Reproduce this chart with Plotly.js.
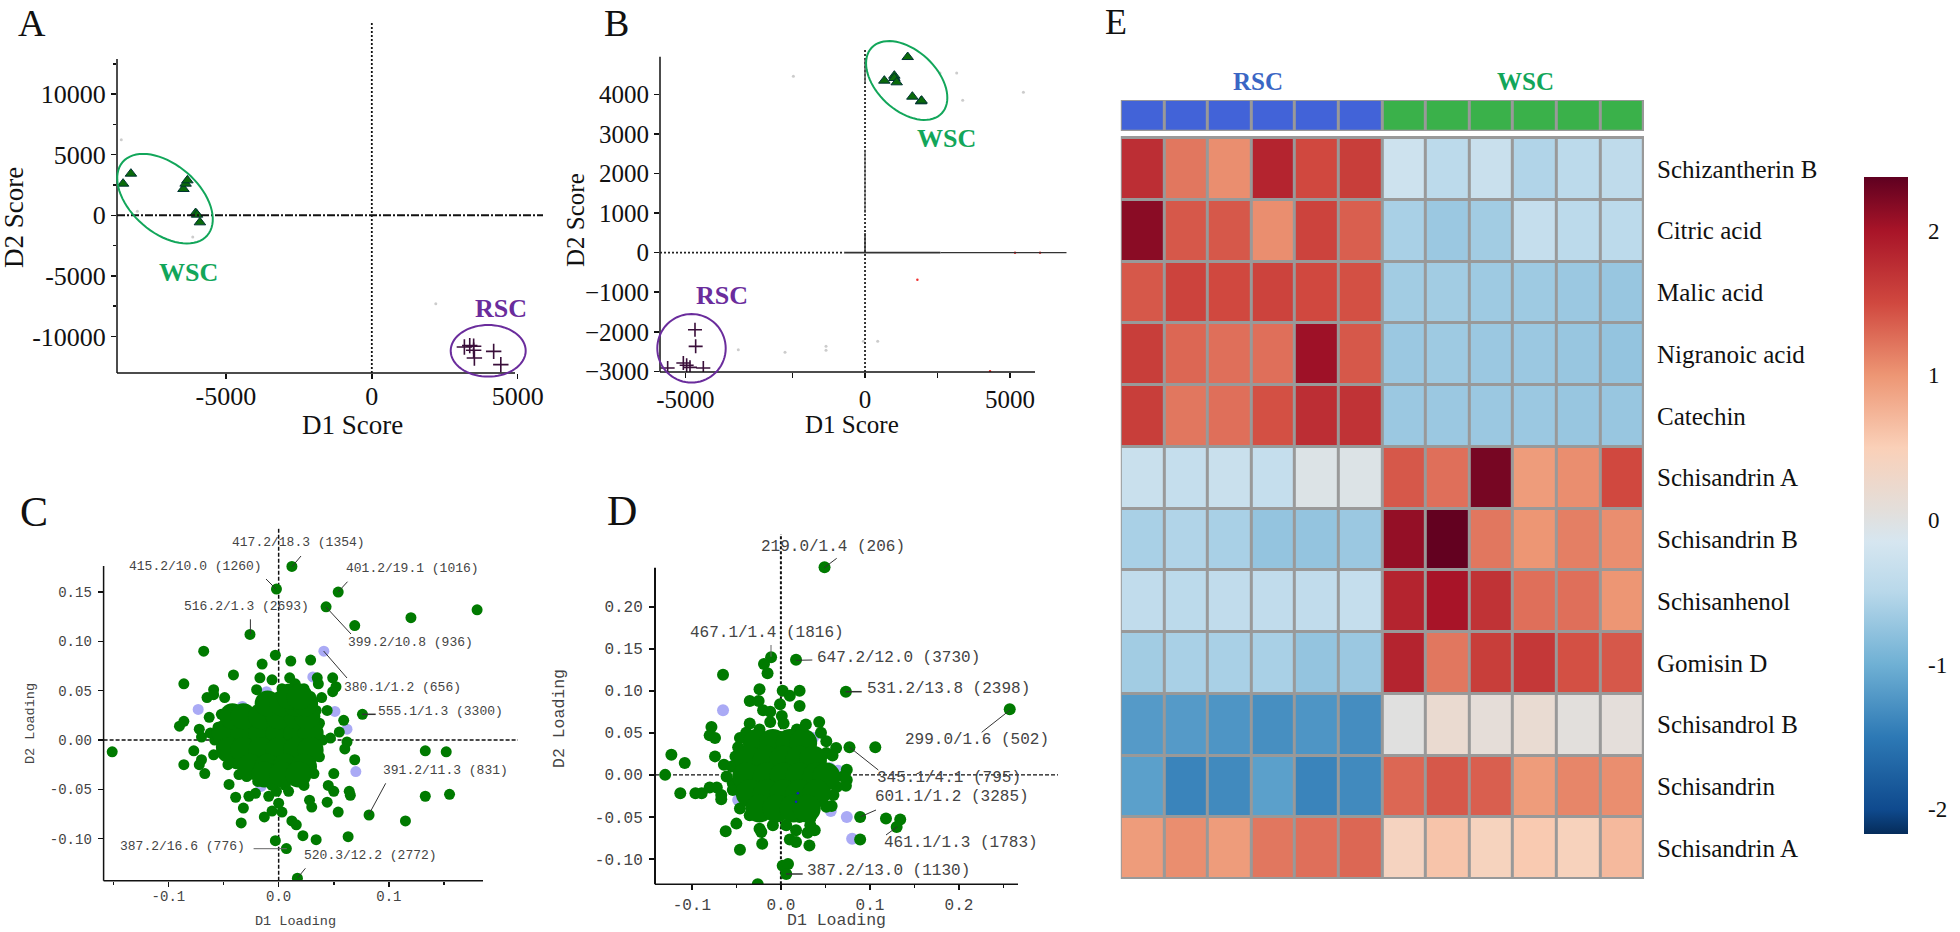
<!DOCTYPE html>
<html><head><meta charset="utf-8">
<script src="https://cdn.plot.ly/plotly-3.0.1.min.js"></script>
<style>html,body{margin:0;padding:0;background:#fff}#p{width:1960px;height:932px}</style>
</head><body><div id="p"></div>
<script>
const W=1960,H=932;
// Panel A scores
const aWscX=[-8526,-8257,-6456,-6382,-6321,-6039,-5990,-5892];
const aWscY=[2612,3437,2172,2612,2887,192,55,-577];
const aRscX=[3173,3357,3491,3491,3516,4177,4422];
const aRscY=[-10862,-10752,-10807,-11137,-11770,-11220,-12320];
const aSpeckX=[2193,-8036,-6137,-8587];
const aSpeckY=[-7288,330,-1787,6242];
// Panel B scores
const bWscX=[1471,666,1011,1011,1092,1632,1930,1950];
const bWscY=[4948,4350,4476,4417,4308,3945,3827,3844];
const bRscX=[-5860,-5837,-6262,-6147,-6032,-6802,-5573];
const bRscY=[-1950,-2369,-2790,-2849,-2900,-2917,-2917];
const bSpeckX=[437,-57,-1344,-1344,3367,5458,3160,2585,-2758,-4367,-2470];
const bSpeckY=[-2242,-2242,-2369,-2470,3852,4055,4544,4544,-2520,-2453,4460];
const bRedX=[1804,5170,6032,4309];
const bRedY=[-683,0,0,-3000];
// Panel C loadings
const cGreenX=[0.012,-0.002,0.054,0.043,0.069,0.120,0.180,-0.026,-0.068,-0.003,0.011,0.029,-0.015,-0.041,-0.017,-0.006,0.010,0.035,0.036,0.049,0.052,0.049,-0.086,-0.059,-0.059,-0.065,-0.049,-0.020,0.039,0.076,0.044,0.059,0.055,0.047,-0.086,-0.090,-0.072,-0.070,-0.052,-0.063,0.062,0.060,0.069,-0.151,0.133,0.152,-0.077,-0.086,-0.072,-0.070,-0.067,-0.059,-0.046,0.050,-0.045,-0.036,0.133,0.155,0.050,0.045,0.064,0.065,-0.039,-0.027,-0.021,-0.009,-0.002,0.009,0.028,0.030,0.044,0.054,0.082,0.115,-0.032,-0.034,-0.013,-0.006,0.003,0,0.012,0.016,0.022,0.034,0.063,-0.003,0.007,0.017,-0.058,-0.062,-0.055,-0.052,-0.045,-0.039,-0.029,-0.019,-0.006,0.006,0.023,0.032,0.037,0.040,0.037,0.034,0.029,0.023,0.015,0.003];
const cGreenY=[0.176,0.153,0.150,0.135,0.116,0.124,0.132,0.107,0.090,0.086,0.080,0.081,0.077,0.066,0.063,0.061,0.063,0.063,0.057,0.063,0.054,0.049,0.057,0.051,0.046,0.043,0.043,0.051,0.043,0.026,0.030,0.020,0.008,0.002,0.019,0.014,0.011,0.003,0.026,0.023,-0.002,-0.009,-0.020,-0.012,-0.011,-0.012,-0.011,-0.025,-0.025,-0.020,-0.034,-0.015,-0.025,-0.034,-0.045,-0.035,-0.057,-0.055,-0.052,-0.046,-0.052,-0.056,-0.058,-0.057,-0.054,-0.057,-0.052,-0.052,-0.061,-0.068,-0.063,-0.073,-0.076,-0.082,-0.069,-0.084,-0.078,-0.072,-0.073,-0.064,-0.082,-0.086,-0.097,-0.101,-0.098,-0.102,-0.110,-0.140,0,0.007,0.013,-0.007,-0.017,-0.024,-0.037,-0.042,-0.046,-0.046,-0.046,-0.034,-0.017,0,0.017,0.030,0.044,0.052,0.057,0.052];
const cCoreX=[-0.049,-0.032,-0.016,0,0.016,0.029,-0.042,-0.032,-0.016,0,0.016,0.026,-0.010,0.003,0.016,0.024,0.010,0.019,-0.045,-0.032,-0.016,0,0.016,0.029,-0.026,-0.010,0.006,0.023,-0.013,0.003,0.018];
const cCoreY=[0.007,0.007,0.007,0.007,0.007,0.007,0.024,0.024,0.024,0.024,0.024,0.024,0.037,0.037,0.037,0.037,0.044,0.044,-0.010,-0.010,-0.010,-0.010,-0.010,-0.010,-0.027,-0.027,-0.027,-0.027,-0.035,-0.035,-0.035];
const cLilacX=[0.041,0.031,-0.073,-0.033,-0.011,0.051,0.062,0.070,-0.016];
const cLilacY=[0.090,0.064,0.031,0.034,0.049,0.029,0.011,-0.032,-0.047];
// Panel D loadings
const dGreenX=[0.049,0.257,0.017,-0.011,-0.019,-0.015,-0.065,-0.024,0.002,0.010,0.021,0.073,-0.035,-0.025,-0.001,0.021,-0.020,-0.012,0.001,-0.012,-0.035,0.003,0.028,0.043,-0.078,0.045,-0.080,-0.074,-0.046,0.051,0.062,0.077,0.106,-0.123,-0.108,-0.074,0.058,-0.064,0.074,-0.130,0.074,0.073,-0.113,-0.096,-0.089,-0.080,-0.072,-0.067,-0.067,0.059,0.057,0.089,0.118,0.134,0.130,0.089,-0.050,-0.062,-0.024,-0.022,0.017,0.033,0.033,0.038,0.030,0.010,0.017,-0.021,0.032,-0.046,0.002,0.008,0.006,-0.026,-0.051,-0.055,-0.054,-0.046,-0.035,-0.009,0.006,0.021,0.051,0.063,0.070,0.051,-0.039,-0.024,0.018,-0.048,-0.061,-0.054];
const dGreenY=[0.247,0.078,0.137,0.140,0.132,0.121,0.119,0.102,0.100,0.094,0.100,0.099,0.088,0.088,0.084,0.082,0.077,0.075,0.070,0.063,0.061,0.061,0.060,0.063,0.057,0.050,0.047,0.044,0.044,0.040,0.032,0.033,0.033,0.024,0.014,0.022,0.023,0.012,0.006,0,-0.006,-0.013,-0.022,-0.022,-0.022,-0.015,-0.015,-0.024,-0.029,-0.024,-0.037,-0.050,-0.052,-0.053,-0.062,-0.077,-0.058,-0.067,-0.064,-0.068,-0.066,-0.052,-0.060,-0.066,-0.069,-0.077,-0.080,-0.082,-0.084,-0.089,-0.108,-0.106,-0.118,-0.130,0.022,0.010,-0.010,-0.040,-0.048,-0.060,-0.060,-0.050,-0.038,-0.014,-0.002,0.026,0.050,0.054,0.054,0.033,-0.002,-0.018];
const dCoreX=[-0.027,-0.009,0.010,0.025,-0.037,-0.016,0.003,0.021,0.036,-0.039,-0.016,0.003,0.021,0.040,0.051,-0.035,-0.016,0.003,0.021,0.040,-0.024,-0.005,0.014,0.029];
const dCoreY=[0.038,0.038,0.038,0.038,0.018,0.018,0.018,0.018,0.018,-0.002,-0.002,-0.002,-0.002,-0.002,-0.002,-0.022,-0.022,-0.022,-0.022,-0.022,-0.040,-0.040,-0.040,-0.040];
const dLilacX=[-0.065,0.036,0.055,0.064,0.056,0.074,0.080,-0.052,-0.048];
const dLilacY=[0.077,0.044,0.008,0.005,-0.043,-0.050,-0.076,0.012,-0.030];
const dBlueX=[0.019,0.017];
const dBlueY=[-0.022,-0.032];
// Panel E heatmap
const compounds=["Schizantherin B","Citric acid","Malic acid","Nigranoic acid","Catechin","Schisandrin A","Schisandrin B","Schisanhenol","Gomisin D","Schisandrol B","Schisandrin","Schisandrin A"];
const heat=[
[1.75,1.2,1.05,1.85,1.5,1.6,-0.25,-0.45,-0.3,-0.55,-0.45,-0.42],
[2.15,1.4,1.4,1.05,1.55,1.35,-0.6,-0.7,-0.65,-0.35,-0.45,-0.45],
[1.4,1.55,1.5,1.55,1.5,1.45,-0.65,-0.65,-0.68,-0.68,-0.7,-0.72],
[1.6,1.3,1.25,1.25,2.05,1.4,-0.7,-0.68,-0.7,-0.7,-0.72,-0.75],
[1.6,1.2,1.25,1.45,1.75,1.7,-0.7,-0.7,-0.7,-0.7,-0.72,-0.72],
[-0.3,-0.35,-0.3,-0.35,-0.05,-0.05,1.4,1.25,2.25,0.95,1.05,1.5],
[-0.6,-0.55,-0.6,-0.75,-0.75,-0.7,2.1,2.35,1.2,1.0,1.15,1.05],
[-0.4,-0.45,-0.4,-0.4,-0.4,-0.35,1.85,2.0,1.7,1.25,1.25,1.0],
[-0.65,-0.6,-0.6,-0.6,-0.75,-0.7,1.85,1.2,1.6,1.65,1.45,1.4],
[-1.2,-1.2,-1.25,-1.3,-1.25,-1.32,0.02,0.2,0.1,0.18,0.05,0.08],
[-1.15,-1.4,-1.35,-1.15,-1.4,-1.35,1.3,1.4,1.35,0.95,1.1,1.05],
[0.95,1.05,0.95,1.2,1.25,1.3,0.4,0.6,0.42,0.55,0.45,0.7]];
const groups=[[0,0,0,0,0,0,1,1,1,1,1,1]];
const zMin=-2.17,zMax=2.37;
const colorStops=[[-2.17,'#052c5a'],[-2,'#0f4a8e'],[-1.5,'#2d79b5'],[-1,'#6fb0d4'],[-0.5,'#b8d8ea'],[-0.15,'#d6e6f0'],[0.05,'#e2dfdc'],[0.5,'#fad0b8'],[1,'#ed9674'],[1.5,'#d0483f'],[2,'#a81428'],[2.37,'#5f0020']];
const scale=colorStops.map(s=>[(s[0]-zMin)/(zMax-zMin),s[1]]);

const SERIF='"Liberation Serif",serif', MONO='"Liberation Mono",monospace';
const GREEN='#007a00',LILAC='#aaaaf5',WSC='#12a65a',RSC='#6a2c9c',DK='#444';
const xd=(l,r)=>[l/W,r/W], yd=(t,b)=>[1-b/H,1-t/H];
const txt=(text,x,y,size,color,family,extra)=>Object.assign({text,x:x/W,y:1-y/H,xref:'paper',yref:'paper',xanchor:'center',yanchor:'middle',showarrow:false,font:{size,color,family}},extra||{});
const seg=(x0,y0,x1,y1,width,color,dash)=>({type:'line',xref:'paper',yref:'paper',x0:x0/W,x1:x1/W,y0:1-y0/H,y1:1-y1/H,line:{width,color,dash:dash||'solid'}});
const dseg=(ax,x0,y0,x1,y1,width,color,dash,layer)=>({type:'line',layer:layer||'above',xref:'x'+ax,yref:'y'+ax,x0,x1,y0,y1,line:{width,color,dash:dash||'solid'}});
function ellipse(cx,cy,a,b,deg,color){
  const t=deg*Math.PI/180;let d='';
  for(let i=0;i<=72;i++){const u=i/72*2*Math.PI,ex=a*Math.cos(u),ey=b*Math.sin(u);
    const px=cx+ex*Math.cos(t)-ey*Math.sin(t),py=cy+ex*Math.sin(t)+ey*Math.cos(t);
    d+=(i?'L':'M')+(px/W).toFixed(5)+','+(1-py/H).toFixed(5);}
  return {type:'path',xref:'paper',yref:'paper',path:d+'Z',line:{width:2,color}};
}
const pts=(ax,x,y,symbol,size,color,lw,lc)=>({type:'scatter',mode:'markers',x,y,xaxis:'x'+ax,yaxis:'y'+ax,hoverinfo:'skip',
  marker:{symbol,size,color,line:{width:lw||0,color:lc||color}}});
const axisBase=(size,color,family)=>({showgrid:false,zeroline:false,showline:false,ticks:'outside',ticklen:5,tickwidth:1.5,tickcolor:'#111',tickfont:{size,color,family}});

const data=[
 pts('',aSpeckX,aSpeckY,'circle',3,'#ccc'),
 pts('',aWscX,aWscY,'triangle-up',10,'#0a6a0a',1,'#033'),
 pts('',aRscX,aRscY,'cross-thin',11,'#3a0f3a',1.6,'#3a0f3a'),
 pts('2',bSpeckX,bSpeckY,'circle',3,'#ccc'),
 pts('2',bRedX,bRedY,'circle',2.5,'#f03030'),
 pts('2',bWscX,bWscY,'triangle-up',10,'#0a6a0a',1,'#033'),
 pts('2',bRscX,bRscY,'cross-thin',10,'#3a0f3a',1.6,'#3a0f3a'),
 pts('3',cLilacX,cLilacY,'circle',11,LILAC),
 pts('3',cGreenX,cGreenY,'circle',11,GREEN),
 pts('3',cCoreX,cCoreY,'circle',26,GREEN),
 pts('4',dLilacX,dLilacY,'circle',12,LILAC),
 pts('4',dGreenX,dGreenY,'circle',12,GREEN),
 pts('4',dCoreX,dCoreY,'circle',28,GREEN),
 pts('4',dBlueX,dBlueY,'circle',2.5,'#1020c0'),
 {type:'heatmap',z:heat,x:[0,1,2,3,4,5,6,7,8,9,10,11],y:[0,1,2,3,4,5,6,7,8,9,10,11],xaxis:'x5',yaxis:'y5',zmin:zMin,zmax:zMax,colorscale:scale,xgap:3,ygap:3,hoverinfo:'skip',
  colorbar:{x:1863.6/W,xanchor:'left',xpad:0,y:1-505.4/H,yanchor:'middle',ypad:0,thickness:44,thicknessmode:'pixels',len:657,lenmode:'pixels',outlinewidth:0,
   tickvals:[-2,-1,0,1,2],ticktext:['-2','-1','0','1','2'],ticks:'outside',ticklen:16,tickcolor:'rgba(0,0,0,0)',tickfont:{size:23,color:'#111',family:SERIF}}},
 {type:'heatmap',z:groups,x:[0,1,2,3,4,5,6,7,8,9,10,11],xaxis:'x6',yaxis:'y6',zmin:0,zmax:1,colorscale:[[0,'#4263d8'],[1,'#3ab14a']],showscale:false,xgap:3,hoverinfo:'skip'}
];

const layout={width:W,height:H,margin:{l:0,r:0,t:0,b:0},paper_bgcolor:'#fff',plot_bgcolor:'rgba(0,0,0,0)',showlegend:false,
 xaxis:Object.assign(axisBase(26,'#111',SERIF),{domain:xd(117,543),anchor:'y',range:[-8734,5868],tickvals:[-5000,0,5000],ticktext:['-5000','0','5000'],ticklabelstandoff:-5}),
 yaxis:Object.assign(axisBase(26,'#111',SERIF),{domain:yd(23,373),anchor:'x',range:[-13008,15868],tickvals:[-10000,-5000,0,5000,10000],ticktext:['-10000','-5000','0','5000','10000'],minor:{tickvals:[-7500,-2500,2500,7500,12500],ticks:'outside',ticklen:3}}),
 xaxis2:Object.assign(axisBase(25,'#111',SERIF),{domain:xd(660,1066.7),anchor:'y2',range:[-7066,6951],tickvals:[-6193,-2500,0,2500,5000],ticktext:['-5000','','0','','5000']}),
 yaxis2:Object.assign(axisBase(25,'#111',SERIF),{domain:yd(48,372),anchor:'x2',range:[-3018,5176],tickvals:[-3000,-2000,-1000,0,1000,2000,3000,4000]}),
 xaxis3:Object.assign(axisBase(14,DK,MONO),{domain:xd(103.6,518),anchor:'y3',range:[-0.1588,0.2171],tickvals:[-0.1,0,0.1],ticktext:['-0.1','0.0','0.1'],ticklabelstandoff:-3,minor:{tickvals:[-0.15,-0.05,0.05,0.15],ticks:'outside',ticklen:3}}),
 yaxis3:Object.assign(axisBase(14,DK,MONO),{domain:yd(528.3,880.7),anchor:'x3',range:[-0.1426,0.2146],tickvals:[-0.1,-0.05,0,0.05,0.1,0.15],ticktext:['-0.10','-0.05','0.00','0.05','0.10','0.15'],ticklabelstandoff:3}),
 xaxis4:Object.assign(axisBase(16,DK,MONO),{domain:xd(655,1058),anchor:'y4',range:[-0.1414,0.3112],tickvals:[-0.1,0,0.1,0.2],ticktext:['-0.1','0.0','0.1','0.2'],minor:{tickvals:[-0.05,0.05,0.15,0.25],ticks:'outside',ticklen:3}}),
 yaxis4:Object.assign(axisBase(16,DK,MONO),{domain:yd(534,884.3),anchor:'x4',range:[-0.1302,0.2866],tickvals:[-0.1,-0.05,0,0.05,0.1,0.15,0.2],ticktext:['-0.10','-0.05','0.00','0.05','0.10','0.15','0.20'],ticklabelstandoff:3}),
 xaxis5:{domain:xd(1120.8,1644),anchor:'y5',range:[-0.5,11.5],visible:false},
 yaxis5:{domain:yd(138,879),anchor:'x5',side:'right',range:[11.5,-0.5],tickvals:[0,1,2,3,4,5,6,7,8,9,10,11],ticktext:compounds,ticks:'',showgrid:false,zeroline:false,showline:false,ticklabelstandoff:12,tickfont:{size:25,color:'#111',family:SERIF}},
 xaxis6:{domain:xd(1120.8,1644),anchor:'y6',range:[-0.5,11.5],visible:false},
 yaxis6:{domain:yd(100.7,130),anchor:'x6',visible:false},
 shapes:[
  {type:'rect',xref:'paper',yref:'paper',layer:'below',x0:1120.8/W,x1:1644/W,y0:1-879/H,y1:1-136/H,fillcolor:'#999',line:{width:0}},
  {type:'rect',xref:'paper',yref:'paper',layer:'below',x0:1120.8/W,x1:1644/W,y0:1-131/H,y1:1-100/H,fillcolor:'#999',line:{width:0}},
  // Panel A
  seg(117,59,117,373,1.5,'#111'),seg(117,373,515,373,1.5,'#111'),
  dseg('',0,-13008,0,15868,1.8,'#111','2px,2px'),dseg('',-8734,0,5868,0,2,'#111','8px,2px,2px,2px'),
  ellipse(165,198.7,56,34,41,WSC),ellipse(488.2,350.8,37.5,25.8,0,RSC),
  // Panel B
  seg(660,56.7,660,372,1.5,'#111'),seg(660,372,1035,372,1.5,'#111'),
  dseg('2',0,-3018,0,5176,1.8,'#222','2px,2px'),dseg('2',-7066,0,-700,0,1.8,'#222','2px,2px'),
  dseg('2',-700,0,2600,0,1.8,'#333'),dseg('2',2600,0,6951,0,1.2,'#333'),
  dseg('2',0,0,0,500,1.5,'#333'),dseg('2',0,1000,0,2600,1.2,'#555'),dseg('2',0,4300,0,4900,1.5,'#555'),
  ellipse(906.7,80.5,48,30,43,WSC),ellipse(691.5,348.3,34.2,34.3,0,RSC),
  // Panel C
  seg(103.6,566,103.6,880.7,1.5,'#111'),seg(103.6,880.7,483,880.7,1.5,'#111'),
  dseg('3',0,-0.1426,0,0.2146,1.5,'#111','4px,2px','below'),dseg('3',-0.1588,0,0.2171,0,1.3,'#111','4px,2px','below'),
  seg(301,556,292,566.7,1,'#333'),seg(266,579,276,589,1,'#333'),seg(347.5,581.7,338,592,1,'#333'),
  seg(326,607,351,634,1,'#333'),seg(250.4,619.3,250.4,634.3,1,'#333'),seg(323.6,651,347,678,1,'#333'),
  seg(362,714.3,375.7,714.3,1.5,'#333'),seg(385.7,783.3,368.6,815,1,'#333'),seg(253.6,848.7,286.8,848.7,1,'#666'),seg(305.4,868.3,297.5,878,1,'#333'),
  // Panel D
  seg(655,567.7,655,884.3,2,'#111'),seg(655,884.3,1018,884.3,1.5,'#111'),
  dseg('4',0,-0.1302,0,0.2866,2,'#111','3px,2px','below'),dseg('4',-0.1414,0,0.3112,0,1.3,'#111','4px,2px','below'),
  seg(836.7,558.3,824.3,567.7,1,'#333'),seg(771,645,771,656.7,1,'#666'),seg(796,660.3,812.3,660,1,'#333'),
  seg(845.7,691.7,861.7,691.7,1.5,'#333'),seg(1010,710,981.7,732.3,1,'#333'),seg(849.3,747,878.3,770,1,'#333'),
  seg(860.7,816.7,876,810,1,'#333'),seg(897.3,826.7,886,835,1,'#333'),seg(786,874,802.7,874,1.5,'#333')
 ],
 annotations:[
  txt('A',32,0,38,'#111',SERIF,{yanchor:'top'}),txt('B',616.7,0,38,'#111',SERIF,{yanchor:'top'}),txt('C',34,512,42,'#111',SERIF),txt('D',622,511,42,'#111',SERIF),txt('E',1116,0,36,'#111',SERIF,{yanchor:'top'}),
  txt('D1 Score',352,425,27,'#111',SERIF),txt('D2 Score',14,218,27,'#111',SERIF,{textangle:-90}),
  txt('<b>WSC</b>',188,272,26,WSC,SERIF),txt('<b>RSC</b>',501,308,26,RSC,SERIF),
  txt('D1 Score',851.7,424,25,'#111',SERIF),txt('D2 Score',575,220,25,'#111',SERIF,{textangle:-90}),
  txt('<b>WSC</b>',946.7,139,26,WSC,SERIF),txt('<b>RSC</b>',721.7,295,26,RSC,SERIF),
  txt('D1 Loading',295,921,13.5,DK,MONO),txt('D2 Loading',30,724,13.5,DK,MONO,{textangle:-90}),
  txt('D1 Loading',836,920.7,16.5,DK,MONO),txt('D2 Loading',559,719,16.5,DK,MONO,{textangle:-90}),
  txt('417.2/18.3 (1354)',298,542,13,DK,MONO),txt('415.2/10.0 (1260)',195.7,566,13,DK,MONO),txt('401.2/19.1 (1016)',412,568.3,13,DK,MONO),
  txt('516.2/1.3 (2693)',246.4,606.7,13,DK,MONO),txt('399.2/10.8 (936)',410,642.7,13,DK,MONO),txt('380.1/1.2 (656)',402.5,687.3,13,DK,MONO),
  txt('555.1/1.3 (3300)',440,711.7,13,DK,MONO),txt('391.2/11.3 (831)',445,770,13,DK,MONO),txt('387.2/16.6 (776)',182,846.7,13,DK,MONO),txt('520.3/12.2 (2772)',370,855,13,DK,MONO),
  txt('219.0/1.4 (206)',832.7,546.7,16,DK,MONO),txt('467.1/1.4 (1816)',766.7,632.7,16,DK,MONO),txt('647.2/12.0 (3730)',898.3,658.3,16,DK,MONO),
  txt('531.2/13.8 (2398)',948.3,689.3,16,DK,MONO),txt('299.0/1.6 (502)',977.3,740,16,DK,MONO),txt('345.1/4.1 (795)',949,777.7,16,DK,MONO),
  txt('601.1/1.2 (3285)',951.7,797.3,16,DK,MONO),txt('461.1/1.3 (1783)',961,843.3,16,DK,MONO),txt('387.2/13.0 (1130)',888.3,871,16,DK,MONO),
  txt('<b>RSC</b>',1258,81,25,'#3a66c4',SERIF),txt('<b>WSC</b>',1525,81,25,WSC,SERIF)
 ]
};
Plotly.newPlot('p',data,layout,{displayModeBar:false,staticPlot:true});
</script></body></html>
